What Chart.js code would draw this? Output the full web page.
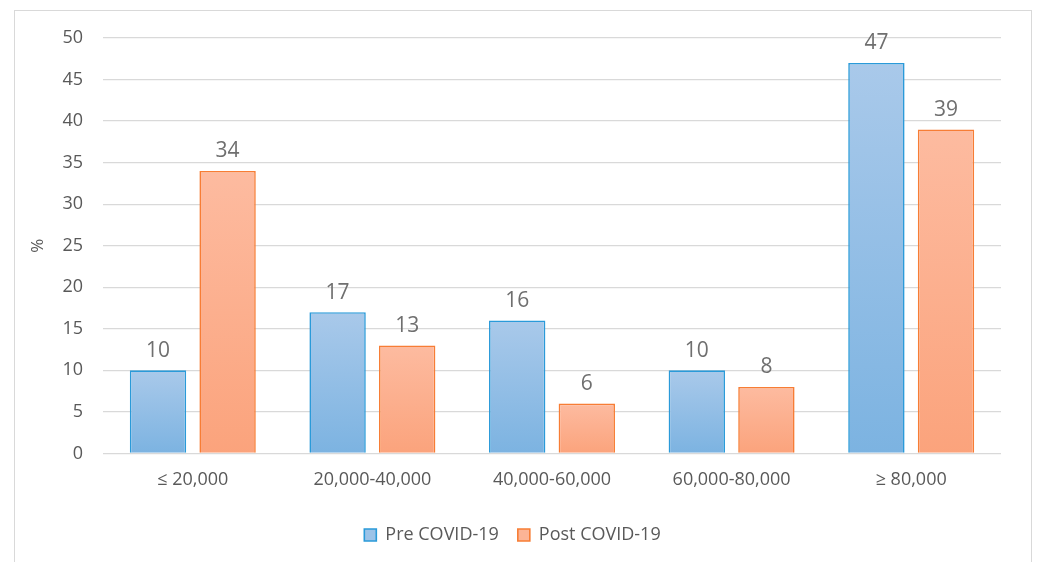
<!DOCTYPE html>
<html>
<head>
<meta charset="utf-8">
<script src="https://cdn.jsdelivr.net/npm/chart.js@4/dist/chart.umd.min.js"></script>
<style>
html,body{margin:0;padding:0;background:#fff;overflow:hidden;}
#wrap{position:absolute;left:0;top:0;width:1038px;height:562px;}
#frame{position:absolute;left:14px;top:10px;width:1018px;height:600px;border:1px solid #d9d9d9;box-sizing:border-box;}
canvas{position:absolute;left:0;top:0;}
</style>
</head>
<body>
<div id="wrap">
<div id="frame"></div>
<canvas id="c" width="1038" height="562"></canvas>
</div>
<script>
const categories = ["≤ 20,000", "20,000-40,000", "40,000-60,000", "60,000-80,000", "≥ 80,000"];
const preCovid = [10, 17, 16, 10, 47];
const postCovid = [34, 13, 6, 8, 39];
const seriesNames = ["Pre COVID-19", "Post COVID-19"];
const yTicks = [0, 5, 10, 15, 20, 25, 30, 35, 40, 45, 50];

const FONT = "'Open Sans', 'Noto Sans', sans-serif";
const TXT = '#595959';

function barGradient(top, bottom) {
  return function(context) {
    const chart = context.chart;
    const ca = chart.chartArea;
    if (!ca || context.type !== 'data') return top;
    const ys = chart.scales.y;
    const y0 = ys.getPixelForValue(context.raw);
    const y1 = ys.getPixelForValue(0);
    const g = chart.ctx.createLinearGradient(0, y0, 0, y1);
    g.addColorStop(0, top);
    g.addColorStop(1, bottom);
    return g;
  };
}

const labelPlugin = {
  id: 'valueLabels',
  afterDatasetsDraw(chart) {
    const ctx = chart.ctx;
    ctx.save();
    ctx.font = "21px " + FONT;
    ctx.fillStyle = '#6f6f6f';
    ctx.textAlign = 'center';
    ctx.textBaseline = 'bottom';
    chart.data.datasets.forEach((ds, i) => {
      const meta = chart.getDatasetMeta(i);
      meta.data.forEach((el, j) => {
        ctx.fillText(String(ds.data[j]), el.x, el.y - 9);
      });
    });
    ctx.restore();
  }
};

new Chart(document.getElementById('c'), {
  type: 'bar',
  data: {
    labels: categories,
    datasets: [
      {
        label: seriesNames[0],
        data: preCovid,
        backgroundColor: barGradient('#a9c9ea', '#7cb3e1'),
        borderColor: '#2a9ad9',
        borderWidth: 1.6,
        categoryPercentage: 0.775,
        barPercentage: 0.81
      },
      {
        label: seriesNames[1],
        data: postCovid,
        backgroundColor: barGradient('#fdbba0', '#fba37c'),
        borderColor: '#f77d35',
        borderWidth: 1.6,
        categoryPercentage: 0.775,
        barPercentage: 0.81
      }
    ]
  },
  options: {
    responsive: false,
    animation: false,
    devicePixelRatio: 1,
    layout: { padding: { left: 24, right: 37, top: 38, bottom: 8 } },
    plugins: {
      tooltip: { enabled: false },
      legend: {
        position: 'bottom',
        labels: {
          font: { family: FONT, size: 18 },
          color: TXT,
          boxWidth: 12,
          boxHeight: 12,
          padding: 19,
          generateLabels(chart) {
            const fills = ['#9cc3e8', '#fcb496'];
            return chart.data.datasets.map((ds, i) => ({
              text: ds.label,
              fillStyle: fills[i],
              strokeStyle: ds.borderColor,
              lineWidth: 1.6,
              fontColor: TXT,
              datasetIndex: i,
              hidden: false
            }));
          }
        }
      }
    },
    scales: {
      x: {
        grid: { display: false, drawTicks: false },
        border: { display: false },
        ticks: { font: { family: FONT, size: 18 }, color: TXT, padding: 16 }
      },
      y: {
        min: 0,
        max: 50,
        afterBuildTicks(scale) { scale.ticks = yTicks.map(v => ({ value: v })); },
        grid: { color: '#d9d9d9', lineWidth: 1.3, drawTicks: false },
        border: { display: false },
        ticks: { font: { family: FONT, size: 18 }, color: TXT, padding: 20 },
        title: { display: true, text: '%', font: { family: FONT, size: 17 }, color: TXT, padding: 4 },
        afterFit(scale) { scale.width = 79; }
      }
    }
  },
  plugins: [labelPlugin]
});
</script>
</body>
</html>
